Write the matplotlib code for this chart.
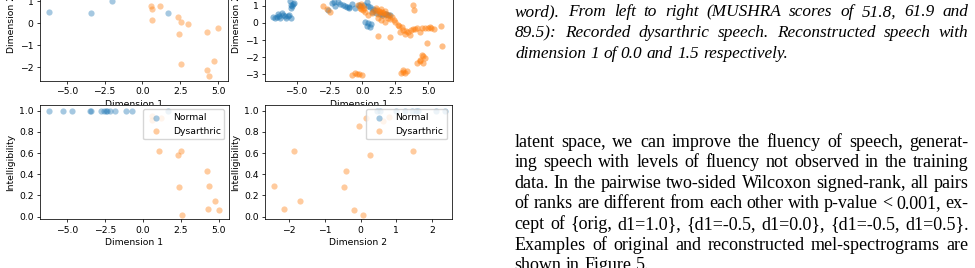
import matplotlib
matplotlib.use("Agg")
import matplotlib.pyplot as plt
import matplotlib.transforms as mtransforms

W, H = 975, 268
BLUE, ORANGE = "#1f77b4", "#ff7f0e"

# ---- data ----
# top-left: latent dimension 1 vs dimension 2 (speaker means)
tl_norm_d1 = [-6.18, -3.42, -2.02, 1.66]
tl_norm_d2 = [0.50, 0.47, 1.01, 0.47]
tl_dys_d1 = [0.53, 0.63, 0.63, 1.18, 2.32, 2.56, 3.00, 2.38, 4.23, 5.00, 2.51, 4.71, 4.25, 4.36]
tl_dys_d2 = [0.79, 0.64, 0.15, 0.77, 0.27, 0.08, -0.05, -0.47, -0.41, -0.20, -1.88, -1.71, -2.15, -2.42]

# top-right: latent dimension 1 vs dimension 2 (utterances)
tr_norm_d1 = [-6.64, -6.42, -6.11, -5.89, -5.66, -5.43, -6.80, -6.27, -5.51, -5.36, -5.21, -5.43,
              -6.50, -6.00, -5.80, -5.60, -6.30, -5.30, -5.45,
              -2.33, -1.87, -1.49, -1.19, -2.10, -2.63, -2.20, -1.70, -1.30, -1.00, -0.60, -0.30,
              0.33, 0.55, 0.78, 0.93, -0.20, 1.92, 1.69, 0.10, 0.45, 0.70, 1.00, 1.30, 1.50,
              0.17, 0.40, 0.63, 0.33, 0.55, 1.82, 2.07, -0.80, -1.00]
tr_norm_d2 = [0.27, 0.51, 0.56, 0.39, 0.39, 0.27, 0.33, 0.27, 1.26, 0.97, 1.15, 0.85,
              0.35, 0.45, 0.30, 0.45, 0.40, 1.10, 1.05,
              1.15, 1.20, 1.03, 0.91, 0.97, 0.74, 1.25, 1.10, 1.00, 0.85, 0.90, 1.05,
              1.20, 0.91, 0.80, 0.74, 0.97, 0.45, 0.51, 1.05, 1.00, 0.65, 0.60, 0.55, 0.45,
              0.04, -0.02, -0.08, -0.19, -0.25, 0.55, 0.45, 1.10, 0.95]
tr_dys_d1 = [-3.01, -2.70, -2.48, -0.36, -0.20, -0.05, 0.02, -0.13, 0.10, 0.20, -0.10,
             1.08, 1.31, 1.54, 1.77, 1.99, 2.22, 1.16, 1.39, 1.69, 0.40, 0.70,
             0.80, 1.00, 1.25, 1.45, 1.60, 1.90, 2.10, 2.40, 2.50,
             1.16, 1.39, 1.69, 2.67, 2.98, 1.16, 2.07, 2.83, 3.20, 3.58, 3.43,
             2.80, 3.10, 3.30, 3.70, 4.00, 4.50, 5.10,
             3.81, 4.11, 4.72, 4.95, 5.17, 5.40, 5.93, 3.81, 3.89, 4.87, 6.01,
             4.49, 4.34, 4.72, 4.11, 4.57, 4.60, 4.40, 3.05, 3.36, 3.20, 2.90, 3.10,
             -0.58, -0.28, -0.05, -0.81, -0.40, 4.34]
tr_dys_d2 = [0.97, 0.80, 0.62, 1.03, 0.85, 0.97, 0.74, 1.09, 0.90, 0.65, 0.80,
             0.74, 0.62, 0.56, 0.51, 0.45, 0.33, 0.51, 0.80, 0.68, 0.45, 0.56,
             0.70, 0.85, 0.70, 0.65, 0.40, 0.30, 0.25, 0.20, 0.05,
             0.27, 0.16, 0.04, -0.13, -0.25, -0.77, -0.83, -0.54, -0.66, -0.72, -0.54,
             -0.20, -0.40, -0.50, -0.40, -0.35, -0.30, -0.25,
             -0.37, -0.31, -0.31, -0.31, -0.31, -0.37, -0.19, 1.03, 0.74, -1.18, -1.35,
             -1.88, -2.17, -2.05, -2.34, -2.34, -1.95, -2.25, -2.75, -2.81, -2.92, -2.92, -2.85,
             -2.92, -2.98, -3.04, -3.04, -3.00, -0.52]

# bottom-left: intelligibility vs dimension 1
bl_norm_d1 = [-6.18, -5.26, -4.67, -3.47, -3.40, -2.74, -2.55, -2.45, -2.33, -2.15, -1.85, -1.10, -0.70, 1.65]
bl_norm_int = [1.0] * len(bl_norm_d1)
bl_dys_d1 = [0.61, 0.63, 1.20, 1.07, 2.32, 2.52, 4.23, 4.36, 2.38, 4.71, 4.25, 5.00, 2.58]
bl_dys_int = [0.95, 0.91, 0.93, 0.62, 0.58, 0.62, 0.43, 0.29, 0.28, 0.15, 0.07, 0.06, 0.02]

# bottom-right: intelligibility vs dimension 2
br_norm_d2 = [0.45, 0.55, 1.00, 1.25, 1.45, 1.55, 1.62, 2.10, 2.35]
br_norm_int = [1.0] * len(br_norm_d2)
br_dys_d2 = [-1.88, -2.42, -1.71, -2.14, -0.41, -0.46, -0.18, 0.08, -0.05, 0.14, 0.27, 1.48, 0.64, 0.80]
br_dys_int = [0.62, 0.29, 0.15, 0.07, 0.43, 0.28, 0.06, 0.02, 0.86, 0.93, 0.58, 0.62, 0.90, 0.94]

caption = ["word).  From left to right (MUSHRA scores of 51.8, 61.9 and",
           "89.5): Recorded dysarthric speech. Reconstructed speech with",
           "dimension 1 of 0.0 and 1.5 respectively."]
body = ["latent space, we can improve the fluency of speech, generat-",
        "ing speech with levels of fluency not observed in the training",
        "data. In the pairwise two-sided Wilcoxon signed-rank, all pairs",
        "of ranks are different from each other with p-value < 0.001, ex-",
        "cept of {orig, d1=1.0}, {d1=-0.5, d1=0.0}, {d1=-0.5, d1=0.5}.",
        "Examples of original and reconstructed mel-spectrograms are",
        "shown in Figure 5."]

plt.rcParams.update({"font.size": 6.7, "axes.linewidth": 0.55,
                     "xtick.major.size": 2.3, "ytick.major.size": 2.3,
                     "xtick.major.width": 0.55, "ytick.major.width": 0.55,
                     "xtick.major.pad": 2.3, "ytick.major.pad": 2.3,
                     "axes.labelpad": 2.7})

fig = plt.figure(figsize=(W/100, H/100), dpi=100)
px = mtransforms.Affine2D().scale(1/W, -1/H).translate(0, 1) + fig.transFigure


def box(l, t, r, b):
    return [l/W, 1 - b/H, (r - l)/W, (b - t)/H]


S = 20
axTL = fig.add_axes(box(40, -33.6, 228, 81))
axTL.scatter(tl_norm_d1, tl_norm_d2, s=S, color=BLUE, alpha=0.4, lw=0)
axTL.scatter(tl_dys_d1, tl_dys_d2, s=S, color=ORANGE, alpha=0.4, lw=0)
axTL.set_xlim(-6.76, 5.64); axTL.set_ylim(-2.64, 2.6)
axTL.set_xticks([-5, -2.5, 0, 2.5, 5]); axTL.set_yticks([-2, -1, 0, 1, 2])
axTL.set_xlabel("Dimension 1"); axTL.set_ylabel("Dimension 2")

axTR = fig.add_axes(box(265, -33.6, 453, 81))
axTR.scatter(tr_norm_d1, tr_norm_d2, s=S, color=BLUE, alpha=0.5, lw=0)
axTR.scatter(tr_dys_d1, tr_dys_d2, s=S, color=ORANGE, alpha=0.5, lw=0)
axTR.set_xlim(-7.4, 6.87); axTR.set_ylim(-3.39, 3.3)
axTR.set_xticks([-5, -2.5, 0, 2.5, 5]); axTR.set_yticks([-3, -2, -1, 0, 1, 2, 3])
axTR.set_xlabel("Dimension 1"); axTR.set_ylabel("Dimension 2")

axBL = fig.add_axes(box(40, 104.7, 229, 219.3))
axBL.scatter(bl_norm_d1, bl_norm_int, s=S, color=BLUE, alpha=0.4, lw=0, label="Normal")
axBL.scatter(bl_dys_d1, bl_dys_int, s=S, color=ORANGE, alpha=0.4, lw=0, label="Dysarthric")
axBL.set_xlim(-6.76, 5.66); axBL.set_ylim(-0.025, 1.057)
axBL.set_xticks([-5, -2.5, 0, 2.5, 5])
axBL.set_xlabel("Dimension 1"); axBL.set_ylabel("Intelligibility")
axBL.legend(loc="upper right")

axBR = fig.add_axes(box(265, 104.7, 452, 219.3))
axBR.scatter(br_norm_d2, br_norm_int, s=S, color=BLUE, alpha=0.4, lw=0, label="Normal")
axBR.scatter(br_dys_d2, br_dys_int, s=S, color=ORANGE, alpha=0.4, lw=0, label="Dysarthric")
axBR.set_xlim(-2.68, 2.56); axBR.set_ylim(-0.025, 1.057)
axBR.set_xticks([-2, -1, 0, 1, 2])
axBR.set_xlabel("Dimension 2"); axBR.set_ylabel("Intelligibility")
axBR.legend(loc="upper right")

# page text to the right, justified like the paper column
rend = fig.canvas.get_renderer()


def column(lines, x0, x1, y0, dy, ragged_last=True, **kw):
    for i, line in enumerate(lines):
        y = y0 + i*dy
        words = line.split()
        ts = [fig.text(0, y, w, transform=px, va="baseline", ha="left", **kw) for w in words]
        ws = [t.get_window_extent(rend).width for t in ts]
        if ragged_last and i == len(lines) - 1:
            gap = 0.25 * kw["fontsize"] * 100 / 72
        else:
            gap = (x1 - x0 - sum(ws)) / max(len(words) - 1, 1)
        x = x0
        for t, w in zip(ts, ws):
            t.set_position((x, y))
            x += w + gap


column(caption, 515, 968.5, 16.5, 20.6, family="Liberation Serif", fontsize=12.4, style="italic")
column(body, 514.5, 968.5, 146.7, 20.6, family="Liberation Serif", fontsize=13)

fig.savefig("out.png", dpi=100)
